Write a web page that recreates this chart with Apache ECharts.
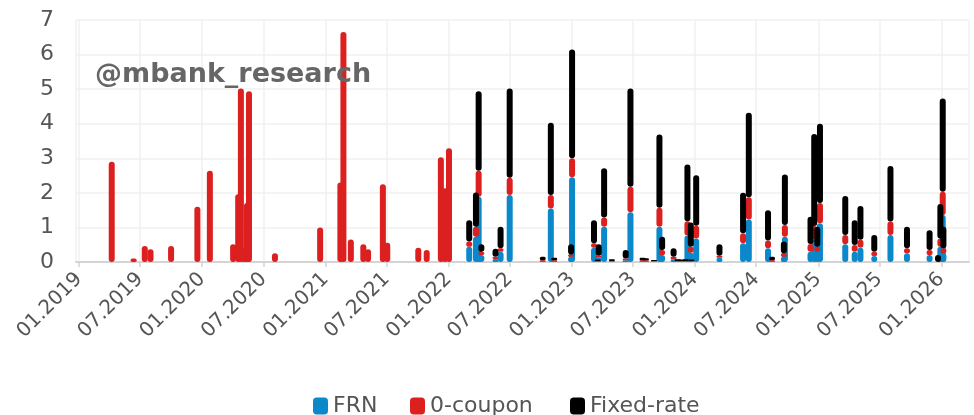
<!DOCTYPE html>
<html>
<head>
<meta charset="utf-8">
<script src="https://cdn.jsdelivr.net/npm/echarts@6/dist/echarts.min.js"></script>
<style>
html,body{margin:0;padding:0;background:#fff;}
#chart{width:974px;height:415px;}
</style>
</head>
<body>
<div id="chart"></div>
<script>
// Issue dates
const dates = [
  '2019-04-08','2019-06-12','2019-07-15','2019-08-01','2019-10-01','2019-12-18',
  '2020-01-24','2020-04-02','2020-04-17','2020-04-25','2020-05-05','2020-05-13','2020-05-19',
  '2020-08-04','2020-12-16','2021-02-14','2021-02-23','2021-03-17','2021-04-23','2021-05-07',
  '2021-06-20','2021-07-03','2021-10-03','2021-10-28','2021-12-09','2021-12-21','2022-01-02',
  '2022-03-03','2022-03-23','2022-03-31','2022-04-08','2022-05-20','2022-06-04','2022-07-01',
  '2022-10-07','2022-10-31','2022-11-10','2022-12-30','2023-01-02',
  '2023-03-08','2023-03-19','2023-03-22','2023-04-07','2023-04-30','2023-06-10','2023-06-24',
  '2023-07-30','2023-08-09','2023-09-02','2023-09-18','2023-09-26','2023-10-30',
  '2023-11-11','2023-11-23','2023-12-05','2023-12-10','2023-12-20','2023-12-22','2024-01-05',
  '2024-03-14','2024-05-23','2024-06-09','2024-08-05','2024-08-17','2024-09-21','2024-09-24',
  '2024-12-09','2024-12-20','2024-12-29','2025-01-06',
  '2025-03-22','2025-04-19','2025-05-06','2025-06-16','2025-08-03','2025-09-21',
  '2025-11-27','2025-12-22','2025-12-29','2026-01-05','2026-01-07'
];
const frn = [
  0,0,0,0,0,0,
  0,0,0,0,0,0,0,
  0,0,0,0,0,0,0,
  0,0,0,0,0,0,0,
  0.44,0.73,1.89,0.20,0.09,0.30,1.94,
  0.03,1.55,0.03,0.15,2.45,
  0.41,0.02,0.12,1.02,0.02,0.05,1.44,
  0.03,0.03,0.02,1.02,0.20,0.08,
  0.02,0.02,0.02,0.77,0.27,0.02,0.68,
  0.12,0.54,1.23,0.40,0.03,0.15,0.73,
  0.30,0.66,0.30,1.12,
  0.51,0.30,0.41,0.17,0.78,0.25,
  0.20,0,0.44,1.36,0.25
];
const zeroCoupon = [
  2.9,0.1,0.46,0.37,0.46,1.6,
  2.64,0.51,1.96,5.02,0.4,1.71,4.94,
  0.25,1.0,2.3,6.65,0.65,0.51,0.37,
  2.25,0.56,0.41,0.35,3.03,2.13,3.29,
  0.15,0.29,0.75,0.10,0.06,0.10,0.50,
  0.02,0.39,0.02,0.07,0.55,
  0.13,0.01,0.06,0.27,0.01,0.05,0.74,
  0.02,0.02,0.01,0.55,0.15,0.07,
  0.01,0.01,0.01,0.41,0.17,0.01,0.37,
  0.06,0.29,0.64,0.22,0.02,0.10,0.34,
  0.22,0.38,0.14,0.59,
  0.27,0.19,0.23,0.13,0.39,0.15,
  0.15,0,0.24,0.67,0.15
];
const fixedRate = [
  0,0,0,0,0,0,
  0,0,0,0,0,0,0,
  0,0,0,0,0,0,0,
  0,0,0,0,0,0,0,
  0.62,0.99,2.30,0.21,0.23,0.62,2.58,
  0.10,2.09,0.07,0.29,3.15,
  0.67,0.04,0.33,1.42,0.05,0.25,2.84,
  0.07,0.06,0.03,2.12,0.38,0.25,
  0.05,0.04,0.05,1.64,0.70,0.04,1.46,
  0.33,1.17,2.45,0.88,0.10,0.34,1.46,
  0.79,2.66,0.58,2.29,
  1.13,0.72,0.98,0.48,1.61,0.62,
  0.57,0.20,1.00,2.70,0.62
];
const seriesNames = ['FRN','0-coupon','Fixed-rate'];
const yTicks = [0,1,2,3,4,5,6,7];
const xRange = ['2019-01-01','2026-03-15'];

const colors = ['#0a88c9','#dc1f1f','#000000'];
const FONT = 'DejaVu Sans';
const legendLeft = [313, 410, 570];

function ts(s){ const p=s.split('-').map(Number); return Date.UTC(p[0],p[1]-1,p[2]); }
function pairs(vals){ return dates.map((d,i)=>[ts(d), vals[i]]); }
function pad(n){ return (n<10?'0':'')+n; }

const chart = echarts.init(document.getElementById('chart'), null, {renderer:'canvas'});
const barStyle = (c)=>({
  type:'bar', stack:'total', barWidth:6,
  itemStyle:{color:c, borderRadius:3},
  emphasis:{disabled:true}, animation:false
});
chart.setOption({
  useUTC: true,
  animation:false,
  color: colors,
  textStyle:{fontFamily:FONT},
  grid:{left:76, right:5, top:20, bottom:153, containLabel:false},
  graphic:[{
    type:'text', left:95, top:61, z:100,
    style:{text:'@mbank_research', fill:'#666666', font:'bold 27px "DejaVu Sans"'}
  }],
  legend: seriesNames.map((n,i)=>({
    data:[n], top:395, left:legendLeft[i], padding:0,
    itemWidth:15, itemHeight:17,
    icon:'roundRect',
    textStyle:{fontFamily:FONT, fontSize:22, color:'#555'}
  })),
  xAxis:{
    type:'time',
    min:ts(xRange[0]), max:ts(xRange[1]),
    splitNumber:14,
    axisLine:{show:true, lineStyle:{color:'#d4d4d4', width:2}},
    axisTick:{show:true, length:5, lineStyle:{color:'#d4d4d4', width:1.5}},
    splitLine:{show:true, lineStyle:{color:'#f0f0f0', width:1.5}},
    axisLabel:{
      rotate:45, fontSize:20, color:'#555', margin:14, fontFamily:FONT,
      hideOverlap:false,
      formatter:function(v){ const d=new Date(v); return pad(d.getUTCMonth()+1)+'.'+d.getUTCFullYear(); }
    }
  },
  yAxis:{
    type:'value', min:yTicks[0], max:yTicks[yTicks.length-1], interval:1,
    axisLine:{show:false}, axisTick:{show:false},
    splitLine:{lineStyle:{color:'#f0f0f0', width:1.5}},
    axisLabel:{fontSize:22, color:'#555', margin:22, fontFamily:FONT}
  },
  series:[
    Object.assign(barStyle(colors[0]), {name:seriesNames[0], data:pairs(frn)}),
    Object.assign(barStyle(colors[1]), {name:seriesNames[1], data:pairs(zeroCoupon)}),
    Object.assign(barStyle(colors[2]), {name:seriesNames[2], data:pairs(fixedRate)})
  ]
});
</script>
</body>
</html>
